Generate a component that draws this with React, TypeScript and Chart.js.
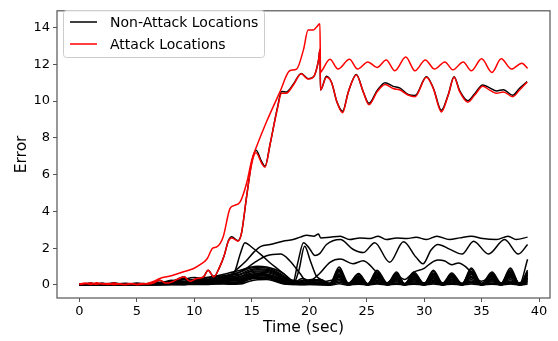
import { useEffect, useRef } from "react";
import { Chart, registerables } from "chart.js";

Chart.register(...registerables);

const FONT = "'DejaVu Sans', sans-serif";
const AXIS_COLOR = "#555555";

const X_TICKS = [0, 5, 10, 15, 20, 25, 30, 35, 40];
const Y_TICKS = [0, 2, 4, 6, 8, 10, 12, 14];
const X_MIN = -1.95;
const X_MAX = 40.95;
const Y_MIN = -0.71;
const Y_MAX = 14.91;

const LEGEND_LABELS = ["Non-Attack Locations", "Attack Locations"];

// ---- attack locations (red) ----
const ATTACK_HIGH_T = [0, 0.5, 1, 1.5, 2, 2.5, 3, 3.5, 4, 4.5, 5, 5.5, 6, 6.5, 7, 8, 9, 9.9, 10.5, 11.1, 11.6, 11.95, 12.5, 13.1, 13.5, 13.97, 14.56, 15.0, 15.4, 16.3, 17.45, 18.3, 18.9, 19.5, 19.9, 20.35, 20.6, 20.93, 20.98, 21.1, 21.8, 22.5, 23.5, 24.2, 25.1, 25.9, 26.7, 27.45, 28.4, 29.2, 30.1, 30.9, 31.8, 32.5, 33.4, 34.1, 35.0, 35.9, 36.7, 37.6, 38.5, 39.0];
const ATTACK_HIGH_V = [0.05, 0.1, 0.02, 0.12, 0.05, 0.08, 0.02, 0.06, 0.03, 0.08, 0.02, 0.05, 0.1, 0.2, 0.35, 0.5, 0.7, 0.88, 1.1, 1.41, 2.0, 2.07, 2.6, 4.15, 4.33, 4.5, 5.56, 6.8, 7.5, 8.9, 10.5, 11.65, 11.74, 12.8, 13.86, 13.86, 14.0, 14.2, 11.56, 11.65, 12.27, 11.74, 12.27, 11.74, 12.13, 11.83, 12.24, 11.65, 12.4, 11.65, 12.24, 11.74, 12.13, 11.7, 12.13, 11.65, 12.3, 11.56, 12.3, 11.74, 12.06, 11.78];

const ATTACK_LOW_T = [0, 0.5, 1, 1.5, 2, 2.5, 3, 3.5, 4, 4.5, 5, 5.5, 6, 6.5, 7, 7.5, 8, 8.5, 9.1, 9.6, 10.2, 10.8, 11.2, 11.7, 12.2, 12.6, 12.96, 13.25, 13.8, 14.1, 14.56, 15.0, 15.37, 15.86, 16.15, 16.6, 17.2, 17.6, 18.0, 18.6, 19.3, 19.9, 20.35, 20.8, 20.93, 20.98, 21.5, 21.95, 22.4, 22.9, 23.4, 24.1, 24.7, 25.2, 25.9, 26.6, 27.3, 27.9, 28.6, 29.2, 30.2, 30.8, 31.5, 32.1, 32.6, 33.1, 33.8, 34.4, 35.1, 35.7, 36.3, 36.9, 37.7, 38.3, 38.96];
const ATTACK_LOW_V = [0.02, 0.06, 0.1, 0.04, 0.08, 0.03, 0.1, 0.05, 0.02, 0.06, 0.03, 0.08, 0.05, 0.12, 0.26, 0.1, 0.15, 0.3, 0.44, 0.2, 0.35, 0.44, 0.8, 0.44, 0.97, 1.6, 2.38, 2.56, 2.38, 2.8, 4.86, 6.62, 7.19, 6.62, 6.4, 7.68, 9.5, 10.42, 10.42, 10.86, 11.48, 11.2, 11.3, 12.2, 12.8, 10.6, 11.3, 11.0, 9.97, 9.36, 10.5, 11.42, 10.5, 9.8, 10.5, 10.9, 10.68, 10.6, 10.33, 10.24, 11.3, 10.68, 9.41, 10.33, 11.3, 10.5, 9.94, 10.33, 10.8, 10.6, 10.42, 10.5, 10.24, 10.6, 11.03];

// ---- non-attack locations (black) ----
// the neighbour that tracks the low attack curve
const TRACK_V = [0.02, 0.06, 0.1, 0.04, 0.08, 0.03, 0.1, 0.05, 0.02, 0.06, 0.03, 0.08, 0.05, 0.12, 0.26, 0.1, 0.15, 0.3, 0.44, 0.2, 0.35, 0.44, 0.8, 0.44, 0.97, 1.6, 2.4, 2.62, 2.4, 2.8, 4.86, 6.7, 7.32, 6.7, 6.45, 7.68, 9.55, 10.52, 10.5, 10.9, 11.5, 11.22, 11.3, 12.2, 12.8, 10.6, 11.35, 11.0, 9.97, 9.45, 10.5, 11.45, 10.5, 9.88, 10.56, 11.0, 10.8, 10.7, 10.36, 10.3, 11.32, 10.7, 9.5, 10.36, 11.32, 10.55, 10.02, 10.4, 10.88, 10.72, 10.55, 10.62, 10.32, 10.7, 11.06];

const TOP_T = [0, 2, 4, 6, 8, 10, 12, 13, 13.8, 14.5, 15.2, 15.8, 16.6, 17.7, 18.6, 19.2, 19.8, 20.4, 20.8, 21.0, 21.8, 22.7, 23.5, 24.4, 25.3, 26.0, 26.7, 27.6, 28.5, 29.3, 30.2, 31.1, 32.2, 33.1, 34.1, 35.1, 36.3, 37.3, 38.0, 39.0];
const TOP_V = [0.0, 0.05, 0.03, 0.06, 0.1, 0.15, 0.3, 0.5, 0.9, 1.3, 1.8, 2.1, 2.2, 2.38, 2.47, 2.6, 2.7, 2.65, 2.77, 2.56, 2.6, 2.65, 2.47, 2.56, 2.52, 2.65, 2.47, 2.56, 2.52, 2.6, 2.47, 2.65, 2.47, 2.56, 2.65, 2.52, 2.47, 2.65, 2.47, 2.6];

const EARLY_PEAK_T = [0, 2, 4, 6, 8, 9, 10, 11, 12, 12.8, 13.5, 14.0, 14.4, 15.0, 15.8, 16.5, 17.3, 18.0, 18.6, 19.2, 20, 21, 22.6, 23.4, 24.3, 25.1, 26, 28, 30, 32, 34, 36, 38, 39];
const EARLY_PEAK_V = [0.02, 0.06, 0.03, 0.05, 0.15, 0.3, 0.2, 0.35, 0.5, 0.4, 0.7, 1.7, 2.3, 2.05, 1.65, 1.25, 0.85, 0.5, 0.2, 0.06, 0.1, 0.15, 0.3, 0.05, 0.2, 0.04, 0.1, 0.06, 0.12, 0.08, 0.1, 0.05, 0.1, 0.2];

const SECOND_T = [0, 5, 10, 12, 14, 16, 17, 18, 18.6, 19.0, 19.5, 20.0, 20.5, 20.9, 21.5, 22.7, 23.8, 24.7, 25.7, 27.0, 28.2, 29.3, 29.9, 30.6, 31.2, 32.2, 33.3, 34.3, 35.6, 37.0, 38.2, 39.0];
const SECOND_V = [0.0, 0.03, 0.1, 0.2, 0.3, 0.5, 0.3, 0.1, 0.15, 1.2, 2.3, 2.0, 1.6, 1.7, 2.2, 2.47, 1.94, 1.76, 2.3, 1.23, 2.35, 1.5, 1.15, 1.9, 2.2, 1.95, 1.68, 2.38, 1.68, 2.47, 1.68, 2.2];

const SPIKE_T = [0, 3, 6, 9, 12, 14, 16, 17.5, 18.6, 19.1, 19.6, 20.1, 20.6, 21.0, 21.8, 22.6, 23.4, 24.3, 25.1, 25.9, 26.8, 27.6, 28.3, 29.1, 30.0, 30.8, 31.6, 32.4, 33.3, 34.1, 35.0, 35.9, 36.7, 37.5, 38.3, 39.0];
const SPIKE_V = [0.01, 0.05, 0.04, 0.1, 0.2, 0.35, 0.6, 0.3, 0.05, 0.8, 2.1, 1.3, 0.5, 0.3, 0.05, 0.45, 0.05, 0.3, 0.04, 0.35, 0.05, 0.3, 0.05, 0.3, 0.05, 0.35, 0.05, 0.3, 0.04, 0.4, 0.05, 0.3, 0.05, 0.4, 0.05, 0.35];

const THIRD_T = [0, 3, 6, 9, 11, 12.5, 13.5, 14.3, 15.2, 16.3, 17.5, 18.3, 19.2, 19.8, 20.4, 20.9, 21.8, 22.7, 23.8, 24.7, 25.7, 26.7, 27.6, 28.3, 29.1, 30.0, 30.8, 31.6, 32.4, 33.3, 34.1, 35.0, 35.9, 36.7, 37.5, 38.3, 39.0];
const THIRD_V = [0.03, 0.02, 0.06, 0.12, 0.25, 0.45, 0.6, 0.8, 1.2, 1.59, 1.68, 1.32, 0.62, 0.18, 0.35, 0.62, 1.23, 1.41, 1.15, 1.32, 0.8, 0.1, 0.5, 0.08, 0.4, 0.06, 0.5, 0.1, 0.4, 0.06, 0.6, 0.08, 0.45, 0.06, 0.55, 0.05, 0.4];

const LATE_RISE_T = [0, 4, 8, 11, 13, 15, 17, 19, 20.5, 21.8, 22.6, 23.4, 24.3, 25.1, 25.9, 26.8, 27.6, 28.3, 29.1, 30.0, 30.5, 31.2, 31.8, 32.4, 33.0, 33.6, 34.2, 35.0, 35.9, 36.7, 37.5, 38.3, 39.0];
const LATE_RISE_V = [0.01, 0.04, 0.1, 0.2, 0.35, 0.55, 0.45, 0.1, 0.05, 0.1, 0.5, 0.08, 0.35, 0.05, 0.45, 0.1, 0.5, 0.3, 0.7, 0.9, 1.15, 1.35, 1.3, 1.1, 1.2, 1.0, 0.6, 0.2, 0.45, 0.08, 0.5, 0.05, 1.4];

// the dense low band shares one time grid
const BAND_T = [0, 1, 2, 3, 4, 5, 6, 7, 8, 9, 10, 11, 12, 13, 14, 14.8, 15.5, 16.3, 17.0, 17.8, 18.6, 19.4, 20.2, 21.0, 21.8, 22.6, 23.4, 24.3, 25.1, 25.9, 26.8, 27.6, 28.3, 29.1, 30.0, 30.8, 31.6, 32.4, 33.3, 34.1, 35.0, 35.9, 36.7, 37.5, 38.3, 39.0];
const BAND_1 = [0.02, 0.08, 0.04, 0.1, 0.03, 0.06, 0.05, 0.12, 0.2, 0.35, 0.25, 0.4, 0.5, 0.65, 0.8, 0.95, 1.02, 0.98, 0.85, 0.6, 0.15, 0.2, 0.3, 0.25, 0.08, 0.97, 0.1, 0.62, 0.06, 0.8, 0.1, 0.7, 0.05, 0.7, 0.08, 0.8, 0.1, 0.65, 0.06, 0.92, 0.08, 0.7, 0.1, 0.92, 0.05, 0.8];
const BAND_2 = [0.01, 0.05, 0.09, 0.03, 0.06, 0.02, 0.08, 0.15, 0.12, 0.28, 0.4, 0.3, 0.45, 0.55, 0.7, 0.9, 0.95, 0.92, 0.78, 0.5, 0.12, 0.35, 0.2, 0.3, 0.06, 0.87, 0.08, 0.58, 0.05, 0.72, 0.07, 0.64, 0.04, 0.62, 0.06, 0.73, 0.08, 0.58, 0.05, 0.84, 0.06, 0.63, 0.07, 0.83, 0.04, 0.72];
const BAND_3 = [0.03, 0.02, 0.06, 0.08, 0.02, 0.1, 0.03, 0.08, 0.25, 0.18, 0.3, 0.22, 0.35, 0.5, 0.6, 0.82, 0.88, 0.86, 0.72, 0.45, 0.1, 0.1, 0.25, 0.2, 0.05, 0.8, 0.04, 0.5, 0.07, 0.66, 0.03, 0.57, 0.06, 0.58, 0.05, 0.65, 0.04, 0.54, 0.07, 0.75, 0.05, 0.57, 0.03, 0.76, 0.06, 0.66];
const BAND_4 = [0.01, 0.06, 0.02, 0.05, 0.09, 0.04, 0.06, 0.1, 0.08, 0.2, 0.15, 0.3, 0.25, 0.4, 0.55, 0.75, 0.82, 0.8, 0.66, 0.4, 0.25, 0.15, 0.1, 0.18, 0.03, 0.73, 0.05, 0.47, 0.02, 0.6, 0.04, 0.53, 0.03, 0.52, 0.05, 0.6, 0.02, 0.49, 0.04, 0.69, 0.03, 0.53, 0.05, 0.69, 0.02, 0.6];
const BAND_5 = [0.02, 0.03, 0.08, 0.02, 0.05, 0.07, 0.02, 0.05, 0.15, 0.1, 0.22, 0.18, 0.3, 0.35, 0.45, 0.7, 0.76, 0.74, 0.6, 0.35, 0.08, 0.25, 0.15, 0.12, 0.04, 0.66, 0.02, 0.42, 0.03, 0.54, 0.05, 0.48, 0.02, 0.48, 0.03, 0.54, 0.04, 0.44, 0.02, 0.63, 0.03, 0.48, 0.04, 0.62, 0.02, 0.54];
const BAND_6 = [0.04, 0.01, 0.03, 0.07, 0.01, 0.03, 0.05, 0.03, 0.06, 0.15, 0.1, 0.2, 0.15, 0.3, 0.38, 0.62, 0.7, 0.68, 0.55, 0.3, 0.06, 0.06, 0.2, 0.1, 0.02, 0.58, 0.03, 0.37, 0.01, 0.48, 0.02, 0.42, 0.03, 0.42, 0.01, 0.48, 0.02, 0.39, 0.03, 0.55, 0.01, 0.42, 0.02, 0.55, 0.03, 0.48];
const BAND_7 = [0.01, 0.04, 0.01, 0.03, 0.06, 0.02, 0.01, 0.06, 0.1, 0.05, 0.18, 0.12, 0.22, 0.25, 0.32, 0.55, 0.64, 0.6, 0.48, 0.25, 0.18, 0.1, 0.05, 0.08, 0.01, 0.49, 0.02, 0.31, 0.03, 0.4, 0.01, 0.35, 0.02, 0.35, 0.01, 0.4, 0.02, 0.33, 0.01, 0.46, 0.03, 0.35, 0.01, 0.46, 0.02, 0.4];
const BAND_8 = [0.02, 0.01, 0.05, 0.01, 0.02, 0.05, 0.03, 0.02, 0.04, 0.12, 0.06, 0.15, 0.1, 0.2, 0.25, 0.48, 0.56, 0.55, 0.42, 0.2, 0.05, 0.15, 0.1, 0.06, 0.02, 0.41, 0.01, 0.26, 0.02, 0.34, 0.01, 0.29, 0.01, 0.3, 0.02, 0.34, 0.01, 0.27, 0.02, 0.39, 0.01, 0.29, 0.02, 0.39, 0.01, 0.34];
const BAND_9 = [0.01, 0.03, 0.02, 0.04, 0.01, 0.02, 0.04, 0.01, 0.08, 0.03, 0.12, 0.08, 0.18, 0.15, 0.2, 0.4, 0.5, 0.48, 0.36, 0.15, 0.1, 0.04, 0.08, 0.04, 0.01, 0.32, 0.01, 0.2, 0.01, 0.26, 0.01, 0.23, 0.01, 0.23, 0.01, 0.26, 0.01, 0.21, 0.01, 0.3, 0.01, 0.23, 0.01, 0.3, 0.01, 0.26];
const BAND_10 = [0.02, 0.01, 0.03, 0.01, 0.03, 0.01, 0.02, 0.04, 0.02, 0.06, 0.04, 0.1, 0.06, 0.12, 0.15, 0.35, 0.42, 0.42, 0.3, 0.12, 0.03, 0.08, 0.03, 0.03, 0.01, 0.23, 0.01, 0.15, 0.0, 0.19, 0.01, 0.17, 0.0, 0.17, 0.01, 0.19, 0.0, 0.16, 0.01, 0.22, 0.0, 0.17, 0.01, 0.22, 0.0, 0.19];
const BAND_11 = [0.01, 0.02, 0.01, 0.02, 0.01, 0.03, 0.01, 0.02, 0.03, 0.02, 0.08, 0.04, 0.1, 0.08, 0.1, 0.3, 0.35, 0.36, 0.25, 0.08, 0.06, 0.02, 0.05, 0.02, 0.0, 0.15, 0.0, 0.09, 0.0, 0.12, 0.0, 0.1, 0.0, 0.1, 0.0, 0.12, 0.0, 0.1, 0.0, 0.14, 0.0, 0.1, 0.0, 0.14, 0.0, 0.12];
const BAND_12 = [0.0, 0.01, 0.02, 0.01, 0.02, 0.01, 0.01, 0.01, 0.02, 0.01, 0.03, 0.02, 0.05, 0.04, 0.05, 0.2, 0.28, 0.3, 0.2, 0.05, 0.02, 0.01, 0.02, 0.01, 0.0, 0.06, 0.0, 0.04, 0.0, 0.05, 0.0, 0.04, 0.0, 0.04, 0.0, 0.05, 0.0, 0.04, 0.0, 0.05, 0.0, 0.04, 0.0, 0.05, 0.0, 0.05];

const BAND_SERIES = [BAND_1, BAND_2, BAND_3, BAND_4, BAND_5, BAND_6, BAND_7, BAND_8, BAND_9, BAND_10, BAND_11, BAND_12];

function pairs(t: number[], v: number[]) {
  return t.map((x, i) => ({ x, y: v[i] }));
}

function lineSet(t: number[], v: number[], color: string) {
  return {
    data: pairs(t, v),
    borderColor: color,
    backgroundColor: color,
    borderWidth: 1.5,
    pointRadius: 0,
    fill: false,
    cubicInterpolationMode: "monotone" as const,
  };
}

const framePlugin = {
  id: "frame",
  afterDraw(chart: any) {
    const { ctx, chartArea: a } = chart;
    ctx.save();
    ctx.strokeStyle = AXIS_COLOR;
    ctx.lineWidth = 1.2;
    ctx.strokeRect(a.left, a.top, a.right - a.left, a.bottom - a.top);

    // axis titles
    ctx.fillStyle = "#000";
    ctx.font = `15.5px ${FONT}`;
    ctx.textAlign = "center";
    ctx.textBaseline = "middle";
    ctx.fillText("Time (sec)", (a.left + a.right) / 2, 328);
    ctx.translate(22, (a.top + a.bottom) / 2);
    ctx.rotate(-Math.PI / 2);
    ctx.fillText("Error", 0, 0);
    ctx.restore();

    // legend box
    ctx.save();
    const bx = 63.5, by = 10.5, bw = 201, bh = 47, r = 3;
    ctx.beginPath();
    ctx.moveTo(bx + r, by);
    ctx.lineTo(bx + bw - r, by);
    ctx.arcTo(bx + bw, by, bx + bw, by + r, r);
    ctx.lineTo(bx + bw, by + bh - r);
    ctx.arcTo(bx + bw, by + bh, bx + bw - r, by + bh, r);
    ctx.lineTo(bx + r, by + bh);
    ctx.arcTo(bx, by + bh, bx, by + bh - r, r);
    ctx.lineTo(bx, by + r);
    ctx.arcTo(bx, by, bx + r, by, r);
    ctx.closePath();
    ctx.fillStyle = "rgba(255,255,255,0.8)";
    ctx.fill();
    ctx.strokeStyle = "#cccccc";
    ctx.lineWidth = 1;
    ctx.stroke();

    const colors = ["#000000", "#ff0000"];
    const rows = [22, 44];
    ctx.font = `14px ${FONT}`;
    ctx.textAlign = "left";
    ctx.textBaseline = "middle";
    LEGEND_LABELS.forEach((label, i) => {
      ctx.strokeStyle = colors[i];
      ctx.lineWidth = 1.5;
      ctx.beginPath();
      ctx.moveTo(70, rows[i]);
      ctx.lineTo(97, rows[i]);
      ctx.stroke();
      ctx.fillStyle = "#000";
      ctx.fillText(label, 110, rows[i] + 1);
    });
    ctx.restore();
  },
};

export default function App() {
  const ref = useRef<HTMLCanvasElement | null>(null);

  useEffect(() => {
    if (!ref.current) return;
    const black = "#000000";
    const red = "#ff0000";
    // Chart.js paints the first dataset last, so the red curves lead the list
    const datasets: any[] = [
      lineSet(ATTACK_LOW_T, ATTACK_LOW_V, red),
      lineSet(ATTACK_HIGH_T, ATTACK_HIGH_V, red),
      ...BAND_SERIES.map((v) => lineSet(BAND_T, v, black)),
      lineSet(LATE_RISE_T, LATE_RISE_V, black),
      lineSet(THIRD_T, THIRD_V, black),
      lineSet(SPIKE_T, SPIKE_V, black),
      lineSet(SECOND_T, SECOND_V, black),
      lineSet(EARLY_PEAK_T, EARLY_PEAK_V, black),
      lineSet(TOP_T, TOP_V, black),
      lineSet(ATTACK_LOW_T, TRACK_V, black),
    ];

    const tickFont = { family: FONT, size: 13 };
    const chart = new Chart(ref.current, {
      type: "line",
      data: { datasets },
      options: {
        responsive: false,
        animation: false,
        layout: { padding: { top: 4, right: 8, left: 0, bottom: 0 } },
        plugins: { legend: { display: false }, tooltip: { enabled: false } },
        scales: {
          x: {
            type: "linear",
            min: X_MIN,
            max: X_MAX,
            afterBuildTicks: (s: any) => {
              s.ticks = X_TICKS.map((value) => ({ value }));
            },
            afterFit: (s: any) => {
              s.height = 43;
            },
            grid: { drawOnChartArea: false, drawTicks: true, tickLength: 4, color: AXIS_COLOR },
            border: { display: false },
            ticks: { font: tickFont, color: "#000", padding: 2, maxRotation: 0, autoSkip: false },
          },
          y: {
            type: "linear",
            min: Y_MIN,
            max: Y_MAX,
            afterBuildTicks: (s: any) => {
              s.ticks = Y_TICKS.map((value) => ({ value }));
            },
            afterFit: (s: any) => {
              s.width = 57;
            },
            grid: { drawOnChartArea: false, drawTicks: true, tickLength: 4, color: AXIS_COLOR },
            border: { display: false },
            ticks: { font: tickFont, color: "#000", padding: 3, autoSkip: false },
          },
        },
      },
      plugins: [framePlugin],
    });
    return () => chart.destroy();
  }, []);

  return (
    <div style={{ position: "fixed", left: 0, top: 0, width: 558, height: 341, background: "#fff" }}>
      <canvas ref={ref} width={558} height={341} />
    </div>
  );
}
